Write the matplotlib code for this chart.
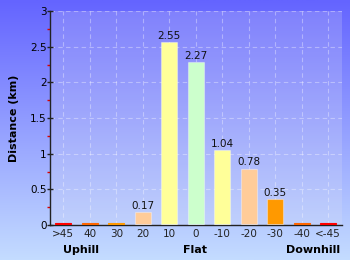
import numpy as np
import matplotlib.pyplot as plt
from matplotlib.colors import LinearSegmentedColormap
from matplotlib.ticker import MultipleLocator

categories = [">45", "40", "30", "20", "10", "0", "-10", "-20", "-30", "-40", "<-45"]
distances = [0.02, 0.02, 0.02, 0.17, 2.55, 2.27, 1.04, 0.78, 0.35, 0.02, 0.02]
bar_colors = ["#ff0000", "#ff6600", "#ff9900", "#ffcc99", "#ffff99", "#ccffcc",
              "#ffff99", "#ffcc99", "#ff9900", "#ff6600", "#ff0000"]
section_labels = ["Uphill", "Flat", "Downhill"]


def main():
    fig = plt.figure(figsize=(3.5, 2.6), dpi=100)

    # background gradient over the whole figure
    bg = fig.add_axes([0, 0, 1, 1], zorder=-10)
    cmap = LinearSegmentedColormap.from_list("bg", ["#6464ff", "#c4dcff"])
    bg.imshow(np.linspace(0, 1, 256).reshape(-1, 1), aspect="auto", cmap=cmap,
              extent=[0, 1, 0, 1], origin="upper")
    bg.axis("off")

    ax = fig.add_axes([50 / 350, 1 - 225 / 260, 291.5 / 350, 214 / 260])
    ax.set_facecolor((0.9, 0.9, 0.95, 0.2))

    xs = np.arange(len(categories))
    # tiny bars get an edge in their own colour so they stay visible
    edges = [(1, 1, 1, 0.35) if d >= 0.1 else c for d, c in zip(distances, bar_colors)]
    ax.bar(xs, distances, bottom=0.01, width=0.6, color=bar_colors,
           edgecolor=edges, linewidth=0.8, zorder=3)
    for x, d in zip(xs, distances):
        if d >= 0.1:
            ax.text(x, d + 0.03, f"{d:.2f}", ha="center", va="bottom",
                    fontsize=7.5, color="#111111", zorder=4)

    ax.set_xlim(-0.5, len(categories) - 0.5)
    ax.set_ylim(0, 3)
    ax.set_xticks(xs)
    ax.set_xticklabels(categories, fontsize=7.5, color="#222222")
    ax.tick_params(axis="x", length=0, pad=3)
    ax.set_yticks(np.arange(0, 3.01, 0.5))
    ax.set_yticklabels([f"{v:g}" for v in np.arange(0, 3.01, 0.5)])
    ax.yaxis.set_minor_locator(MultipleLocator(0.25))
    ax.tick_params(axis="y", which="major", direction="inout", length=5, width=1,
                   labelsize=7.5, color="#222222", pad=0)
    ax.tick_params(axis="y", which="minor", length=2, width=1, color="#dd0000")

    ax.grid(True, color="white", alpha=0.35, linestyle=(0, (4, 3)), linewidth=0.8)
    ax.set_axisbelow(True)
    for side in ("top", "right"):
        ax.spines[side].set_visible(False)
    for side in ("left", "bottom"):
        ax.spines[side].set_color("#222222")
        ax.spines[side].set_linewidth(1)

    ax.set_ylabel("Distance (km)", fontsize=8, fontweight="bold", labelpad=8)

    fig.text(81 / 350, 1 - 250 / 260, section_labels[0], fontsize=8,
             fontweight="bold", ha="center", va="center")
    fig.text(195 / 350, 1 - 250 / 260, section_labels[1], fontsize=8,
             fontweight="bold", ha="center", va="center")
    fig.text(313 / 350, 1 - 250 / 260, section_labels[2], fontsize=8,
             fontweight="bold", ha="center", va="center")

    fig.savefig("out.png", dpi=100)
    return 0


if __name__ == "__main__":
    raise SystemExit(main())
